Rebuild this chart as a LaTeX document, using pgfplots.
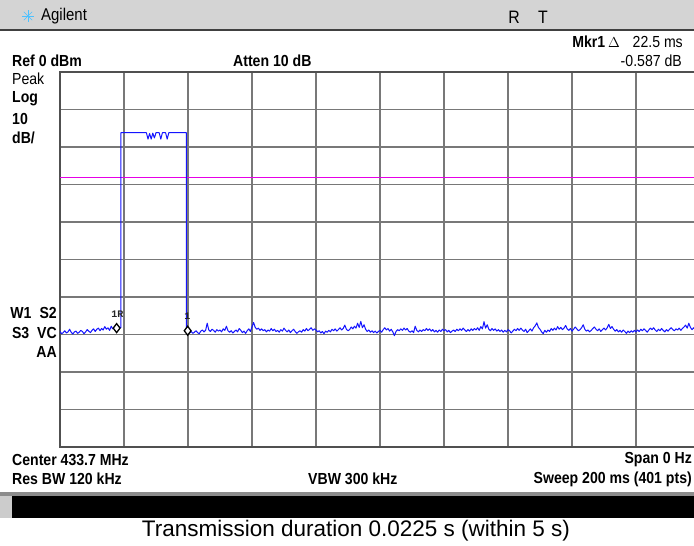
\documentclass[border=0pt]{standalone}
\usepackage{pgfplots}
\pgfplotsset{compat=1.18}
\usepackage{fontspec}
\setmainfont{Liberation Sans}
\setmonofont{Liberation Mono}
\newfontfamily\inst{Liberation Sans}[FakeStretch=0.88]
\newcommand\ib[1]{{\inst\bfseries\fontsize{16}{16}\selectfont #1}}
\newcommand\ir[1]{{\inst\fontsize{16}{16}\selectfont #1}}
\definecolor{trace}{RGB}{20,20,255}
\definecolor{displine}{RGB}{230,0,230}
\definecolor{gridc}{RGB}{120,120,120}
\definecolor{framec}{RGB}{80,80,80}
\definecolor{barc}{RGB}{212,212,212}
\begin{document}
\begin{tikzpicture}[x=1pt,y=1pt]
\useasboundingbox (0,0) rectangle (694,546);
\clip (0,0) rectangle (694,546);
\fill[white] (0,0) rectangle (694,546);
% top bar
\fill[barc] (0,517) rectangle (694,546);
\draw[black!75, line width=2pt] (0,516) -- (694,516);
\foreach \a in {0,45,...,315} \draw[blue!35!cyan!70, line width=0.6pt] (28,530) -- ++(\a:6);
\node[anchor=west, inner sep=0] at (41,530) {\ir{\fontsize{17}{17}\selectfont Agilent}};
\node[inner sep=0] at (514,529) {\ir{\fontsize{18}{18}\selectfont R}};
\node[inner sep=0] at (543,529) {\ir{\fontsize{18}{18}\selectfont T}};
% header texts
\node[anchor=east, inner sep=0] at (620,504) {\ib{Mkr1} {\fontsize{14}{14}\selectfont $\Delta$}};
\node[anchor=east, inner sep=0] at (683,504) {\ir{22.5 ms}};
\node[anchor=west, inner sep=0] at (12,485) {\ib{Ref 0 dBm}};
\node[anchor=west, inner sep=0] at (233,485) {\ib{Atten 10 dB}};
\node[anchor=east, inner sep=0] at (682,485) {\ir{-0.587 dB}};
\node[anchor=west, inner sep=0] at (12,467) {\ir{Peak}};
\node[anchor=west, inner sep=0] at (12,447) {\ib{Log}};
\node[anchor=west, inner sep=0] at (12,427) {\ib{10}};
\node[anchor=west, inner sep=0] at (12,408) {\ib{dB/}};
\node[anchor=east, inner sep=0] at (57,233) {\ib{W1\enspace S2}};
\node[anchor=east, inner sep=0] at (57,213) {\ib{S3\enspace VC}};
\node[anchor=east, inner sep=0] at (57,194) {\ib{AA}};
% footer texts
\node[anchor=west, inner sep=0] at (12,86) {\ib{Center 433.7 MHz}};
\node[anchor=east, inner sep=0] at (692,86) {\ib{Span 0 Hz}};
\node[anchor=west, inner sep=0] at (12,67) {\ib{Res BW 120 kHz}};
\node[anchor=west, inner sep=0] at (308,67) {\ib{VBW 300 kHz}};
\node[anchor=east, inner sep=0] at (692,67) {\ib{Sweep 200 ms (401 pts)}};
\fill[black!45] (0,50) rectangle (694,54);
\fill[black!20] (0,28) rectangle (12,50);
\fill[black] (12,28) rectangle (694,50);
\node[inner sep=0] at (356,15) {\fontsize{22.5}{22.5}\selectfont Transmission duration 0.0225 s (within 5 s)};
\begin{axis}[at={(60pt,99pt)}, anchor=south west, scale only axis,
  width=640pt, height=375pt,
  xmin=0, xmax=200, ymin=-100, ymax=0,
  xtick={0,20,...,200}, ytick={-100,-90,...,0},
  xticklabels={}, yticklabels={}, major tick length=0pt,
  grid=major, major grid style={draw=gridc, line width=1.4pt},
  axis line style={draw=framec, line width=2pt},
  clip mode=individual]
\addplot[color=displine, line width=1.5pt, mark=none] coordinates {(0,-28.2) (200,-28.2)};
\addplot[color=trace, line width=1pt, line join=round, mark=none] coordinates {
(0,-69.2) (0.5,-69.8) (1,-69.5) (1.5,-69.0) (2,-69.6) (2.5,-69.3) (3,-68.6) (3.5,-69.4) (4,-69.9) (4.5,-69.3)
(5,-69.1) (5.5,-69.7) (6,-69.4) (6.5,-68.9) (7,-69.2) (7.5,-69.8) (8,-69.3) (8.5,-68.7) (9,-69.1) (9.5,-69.5)
(10,-68.9) (10.5,-68.5) (11,-69.2) (11.5,-68.6) (12,-68.3) (12.5,-69.0) (13,-68.4) (13.5,-68.8) (14,-67.9) (14.5,-68.6)
(15,-68.2) (15.5,-68.9) (16,-67.8) (16.5,-68.5) (17,-68.0) (17.5,-68.3) (18,-67.6) (18.5,-68.1)
(19,-68.2) (19,-16.2) (27,-16.2) (27.5,-17.9) (28,-16.4) (28.5,-17.9) (29,-16.3) (29.5,-17.6) (30,-16.2)
(31,-16.2) (31.5,-17.9) (32,-16.2) (33,-16.2) (33.5,-17.9) (34,-16.2) (39.5,-16.2) (39.5,-69.0)
(40,-69.3) (40.5,-69.6) (41,-69.2) (41.5,-69.7) (42,-69.4) (42.5,-69.0) (43,-69.5) (43.5,-69.8) (44,-69.1) (44.5,-68.8)
(45,-69.3) (45.5,-68.9) (46,-67.0) (46.5,-68.8) (47,-69.2) (47.5,-68.6) (48,-68.9) (48.5,-69.4) (49,-68.7) (49.5,-69.1)
(50,-68.8) (50.5,-69.3) (51,-68.5) (51.5,-68.9) (52,-67.8) (52.5,-69.0) (53,-69.4) (53.5,-69.0) (54,-69.6) (54.5,-69.2)
(55,-68.8) (55.5,-69.3) (56,-68.4) (56.5,-68.9) (57,-69.5) (57.5,-69.1) (58,-69.7) (58.5,-69.0) (59,-68.5) (59.5,-69.2)
(60,-68.0) (60.5,-66.8) (61,-68.1) (61.5,-68.6) (62,-68.3) (62.5,-68.9) (63,-68.5) (63.5,-69.0) (64,-68.7) (64.5,-69.3)
(65,-68.8) (65.5,-69.1) (66,-68.4) (66.5,-69.0) (67,-68.6) (67.5,-69.2) (68,-68.9) (68.5,-69.4) (69,-68.7) (69.5,-69.1)
(70,-68.3) (70.5,-68.9) (71,-69.3) (71.5,-68.8) (72,-69.5) (72.5,-69.0) (73,-68.6) (73.5,-69.2) (74,-69.7) (74.5,-69.3)
(75,-69.0) (75.5,-69.4) (76,-68.7) (76.5,-69.1) (77,-68.4) (77.5,-69.0) (78,-68.6) (78.5,-68.2) (79,-68.9) (79.5,-68.5)
(80,-68.8) (80.5,-69.3) (81,-69.0) (81.5,-69.6) (82,-69.2) (82.5,-69.8) (83,-69.1) (83.5,-69.4) (84,-68.9) (84.5,-69.3)
(85,-68.6) (85.5,-69.0) (86,-68.5) (86.5,-69.1) (87,-68.7) (87.5,-68.2) (88,-68.8) (88.5,-68.4) (89,-67.5) (89.5,-68.6)
(90,-69.0) (90.5,-68.7) (91,-68.0) (91.5,-68.5) (92,-67.8) (92.5,-68.3) (93,-67.0) (93.5,-68.1) (94,-66.5) (94.5,-68.2)
(95,-67.4) (95.5,-68.6) (96,-69.2) (96.5,-68.8) (97,-69.4) (97.5,-69.0) (98,-69.5) (98.5,-69.1) (99,-69.6) (99.5,-69.2)
(100,-68.9) (100.5,-69.4) (101,-68.7) (101.5,-68.2) (102,-68.8) (102.5,-68.4) (103,-69.1) (103.5,-68.6) (104,-69.3) (104.5,-70.3)
(105,-69.2) (105.5,-68.7) (106,-69.0) (106.5,-68.5) (107,-68.9) (107.5,-68.3) (108,-68.8) (108.5,-68.4) (109,-69.1) (109.5,-69.4)
(110,-69.0) (110.5,-69.5) (111,-67.8) (111.5,-68.9) (112,-69.3) (112.5,-68.8) (113,-69.2) (113.5,-68.7) (114,-69.0) (114.5,-68.4)
(115,-68.9) (115.5,-68.5) (116,-69.1) (116.5,-68.7) (117,-69.3) (117.5,-68.9) (118,-69.4) (118.5,-68.8) (119,-69.2) (119.5,-68.6)
(120,-69.0) (120.5,-68.7) (121,-69.3) (121.5,-68.9) (122,-69.5) (122.5,-69.1) (123,-68.8) (123.5,-69.2) (124,-68.6) (124.5,-69.0)
(125,-68.5) (125.5,-68.9) (126,-68.3) (126.5,-68.8) (127,-69.2) (127.5,-68.7) (128,-69.1) (128.5,-68.5) (129,-68.9) (129.5,-68.4)
(130,-68.8) (130.5,-68.2) (131,-68.9) (131.5,-67.9) (132,-68.5) (132.5,-66.6) (133,-68.3) (133.5,-67.4) (134,-68.6) (134.5,-69.0)
(135,-68.4) (135.5,-68.9) (136,-68.5) (136.5,-69.1) (137,-68.7) (137.5,-69.2) (138,-68.8) (138.5,-69.4) (139,-68.9) (139.5,-69.3)
(140,-68.7) (140.5,-69.0) (141,-69.6) (141.5,-69.1) (142,-68.6) (142.5,-69.0) (143,-68.4) (143.5,-68.9) (144,-68.3) (144.5,-68.8)
(145,-69.2) (145.5,-68.6) (146,-69.5) (146.5,-69.0) (147,-68.5) (147.5,-69.1) (148,-68.2) (148.5,-67.7) (149,-66.9) (149.5,-68.1)
(150,-68.6) (150.5,-69.3) (151,-69.8) (151.5,-68.9) (152,-69.4) (152.5,-68.8) (153,-69.2) (153.5,-68.4) (154,-68.9) (154.5,-68.3)
(155,-68.8) (155.5,-67.9) (156,-68.6) (156.5,-68.1) (157,-68.7) (157.5,-68.3) (158,-67.6) (158.5,-68.5) (159,-68.9) (159.5,-68.4)
(160,-69.1) (160.5,-68.6) (161,-68.0) (161.5,-68.5) (162,-69.0) (162.5,-68.7) (163,-68.2) (163.5,-67.4) (164,-68.6) (164.5,-69.1)
(165,-68.8) (165.5,-69.3) (166,-68.9) (166.5,-68.4) (167,-68.0) (167.5,-68.6) (168,-69.0) (168.5,-68.5) (169,-69.2) (169.5,-68.7)
(170,-68.3) (170.5,-68.8) (171,-68.2) (171.5,-67.3) (172,-68.4) (172.5,-67.9) (173,-68.6) (173.5,-69.1) (174,-68.7) (174.5,-69.3)
(175,-68.9) (175.5,-69.4) (176,-68.8) (176.5,-69.2) (177,-69.7) (177.5,-69.1) (178,-69.5) (178.5,-69.0) (179,-69.4) (179.5,-68.9)
(180,-69.3) (180.5,-68.8) (181,-69.2) (181.5,-68.6) (182,-69.0) (182.5,-68.5) (183,-68.9) (183.5,-69.4) (184,-68.8) (184.5,-68.3)
(185,-68.7) (185.5,-68.2) (186,-68.8) (186.5,-69.2) (187,-68.6) (187.5,-69.0) (188,-68.4) (188.5,-68.9) (189,-69.3) (189.5,-68.7)
(190,-69.1) (190.5,-68.6) (191,-68.2) (191.5,-68.7) (192,-69.0) (192.5,-68.5) (193,-68.8) (193.5,-68.3) (194,-68.9) (194.5,-68.4)
(195,-68.0) (195.5,-67.5) (196,-68.3) (196.5,-67.0) (197,-68.1) (197.5,-68.7) (198,-68.2) (198.5,-68.8) (199,-68.4) (199.5,-68.9)
(200,-68.6)};
\addplot[only marks, mark=diamond*, mark size=4.5pt, mark options={draw=black, fill=white, line width=1.3pt}] coordinates {(17.7,-68.3) (39.9,-69.0)};
\node[font=\ttfamily\bfseries\fontsize{10}{10}\selectfont, text=black!85] at (axis cs:17.9,-64.7) {1R};
\node[font=\ttfamily\bfseries\fontsize{10}{10}\selectfont, text=black!85] at (axis cs:39.8,-65.0) {1};
\end{axis}
\end{tikzpicture}
\end{document}
